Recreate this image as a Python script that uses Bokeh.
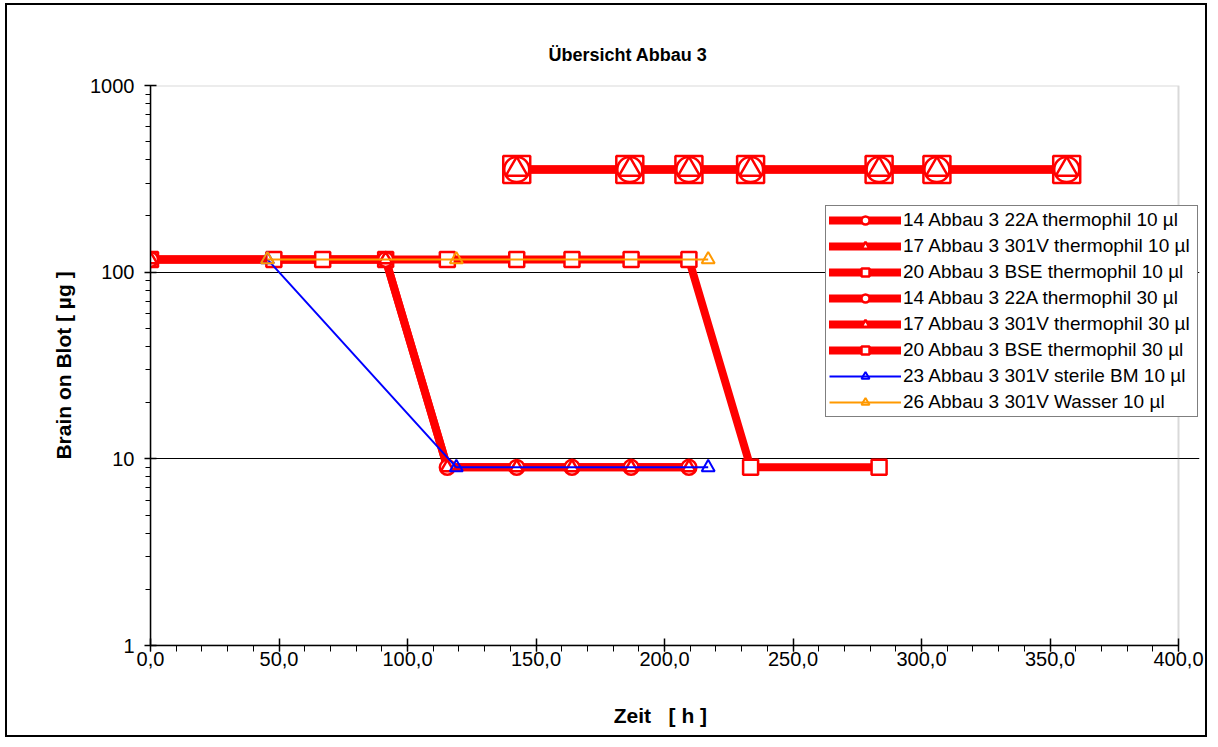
from bokeh.plotting import figure
from bokeh.models import (FixedTicker, CustomJSTickFormatter, Legend, LegendItem, Range1d,
                          BoxAnnotation)
from bokeh.embed import file_html
from bokeh.resources import INLINE

# ---- data (hours, µg) ----
x_14_10 = [0.0, 91.5, 115.5, 142.5, 164.0, 187.0, 209.5]
y_14_10 = [117, 117, 9, 9, 9, 9, 9]
x_17_10 = [0.0, 91.5, 115.5, 142.5, 164.0, 187.0, 209.5]
y_17_10 = [117, 117, 9, 9, 9, 9, 9]
x_20_10 = [0.0, 48.0, 67.0, 91.5, 115.5, 142.5, 164.0, 187.0, 209.5, 233.5, 283.5]
y_20_10 = [117, 117, 117, 117, 117, 117, 117, 117, 117, 9, 9]
x_14_30 = [142.5, 186.5, 209.5, 233.5, 283.5, 306.0, 356.5]
y_14_30 = [355, 355, 355, 355, 355, 355, 355]
x_17_30 = [142.5, 186.5, 209.5, 233.5, 283.5, 306.0, 356.5]
y_17_30 = [355, 355, 355, 355, 355, 355, 355]
x_20_30 = [142.5, 186.5, 209.5, 233.5, 283.5, 306.0, 356.5]
y_20_30 = [355, 355, 355, 355, 355, 355, 355]
x_23 = [45.5, 119.0, 217.0]
y_23 = [117, 9, 9]
x_26 = [45.5, 119.0, 217.0]
y_26 = [117, 117, 117]

labels = ["14 Abbau 3 22A thermophil 10 µl", "17 Abbau 3 301V thermophil 10 µl",
          "20 Abbau 3 BSE thermophil 10 µl", "14 Abbau 3 22A thermophil 30 µl",
          "17 Abbau 3 301V thermophil 30 µl", "20 Abbau 3 BSE thermophil 30 µl",
          "23 Abbau 3 301V sterile BM 10 µl", "26 Abbau 3 301V Wasser 10 µl"]
x_ticks = [0, 50, 100, 150, 200, 250, 300, 350, 400]
y_ticks = [1, 10, 100, 1000]
X_MIN, X_MAX = 0, 400
Y_MIN, Y_MAX = 1, 1000

FONT = "Liberation Sans"
RED = "#FF0000"
BLUE = "#0000FF"
ORANGE = "#FF9900"
NB = "\u00a0"

# frame widened to the right so that the legend may overhang the plot area
p = figure(width=1202, height=734, x_range=Range1d(X_MIN, X_MAX * 1049 / 1028),
           y_range=Range1d(Y_MIN, Y_MAX),
           y_axis_type="log", output_backend="svg", toolbar_location=None,
           min_border_left=143, min_border_right=10, min_border_top=80, min_border_bottom=94)
p.styles = {"border": "2px solid black", "box-sizing": "border-box",
            "margin-left": "5px", "margin-top": "3px"}

p.title.text = "Übersicht Abbau 3"
p.title.text_font = FONT
p.title.text_font_size = "18px"
p.title.text_font_style = "bold"
p.title.text_color = "black"
p.title.align = "left"
p.title.offset = 398
p.title.standoff = 42

p.outline_line_color = None
plot_area = BoxAnnotation(left=X_MIN, right=X_MAX, bottom=Y_MIN, top=Y_MAX,
                          fill_alpha=0, line_color="#808080", line_width=2, level="underlay")
p.add_layout(plot_area)
p.xgrid.visible = False
p.ygrid.ticker = FixedTicker(ticks=[10, 100])
p.ygrid.bounds = (X_MIN, X_MAX)
p.ygrid.grid_line_color = "#000000"
p.ygrid.grid_line_width = 1

p.xaxis.bounds = (X_MIN, X_MAX)
p.xaxis.ticker = FixedTicker(ticks=x_ticks, minor_ticks=list(range(0, 401, 10)))
p.xaxis.formatter = CustomJSTickFormatter(code="return tick.toFixed(1).replace('.', ',');")
p.yaxis.ticker = FixedTicker(ticks=y_ticks,
                             minor_ticks=[k * 10 ** d for d in range(3) for k in range(2, 10)])
p.yaxis.formatter = CustomJSTickFormatter(code="return tick.toFixed(0);")
for ax in (p.xaxis, p.yaxis):
    ax.axis_line_color = "black"
    ax.axis_line_width = 1.5
    ax.major_tick_line_color = "black"
    ax.minor_tick_line_color = "black"
    ax.major_tick_line_width = 1.5
    ax.major_label_text_font = FONT
    ax.major_label_text_font_size = "20px"
    ax.major_label_text_color = "black"
    ax.axis_label_text_font = FONT
    ax.axis_label_text_font_size = "21px"
    ax.axis_label_text_font_style = "bold"
    ax.axis_label_text_color = "black"
p.xaxis.major_tick_in = 7
p.xaxis.major_tick_out = 6
p.xaxis.minor_tick_in = 0
p.xaxis.minor_tick_out = 6
p.xaxis.major_label_standoff = 0
# trailing spaces re-centre the label under the plot area (the frame is wider)
p.xaxis.axis_label = "Zeit" + NB * 3 + "[ h ]" + NB * 5
p.xaxis.axis_label_standoff = 35
p.yaxis.major_tick_in = 6
p.yaxis.major_tick_out = 6
p.yaxis.minor_tick_in = 0
p.yaxis.minor_tick_out = 5
p.yaxis.major_label_standoff = 10
p.yaxis.axis_label = "Brain on Blot [ µg ]"
p.yaxis.axis_label_standoff = 12

red_series = [(x_14_10, y_14_10, "circle", 15), (x_17_10, y_17_10, "triangle", 13),
              (x_20_10, y_20_10, "square", 15), (x_14_30, y_14_30, "circle", 25),
              (x_17_30, y_17_30, "triangle", 22), (x_20_30, y_20_30, "square", 27)]

lines = []
for xs, ys, m, s in red_series:
    lines.append(p.line(xs, ys, line_color=RED, line_width=8, line_cap="round", line_join="round"))
marks = [None] * 6
for idx in [5, 2, 3, 0, 4, 1]:
    xs, ys, m, s = red_series[idx]
    marks[idx] = p.scatter(xs, ys, marker=m, size=s, line_color=RED, line_width=2.5,
                           fill_color="white")

bl = p.line(x_23, y_23, line_color=BLUE, line_width=2)
bm = p.scatter(x_23, y_23, marker="triangle", size=13, line_color=BLUE, line_width=2,
               fill_color=None)
ol = p.line(x_26, y_26, line_color=ORANGE, line_width=2)
om = p.scatter(x_26, y_26, marker="triangle", size=13, line_color=ORANGE, line_width=2,
               fill_color=None)

items = [LegendItem(label=labels[i], renderers=[lines[i], marks[i]]) for i in range(6)]
items.append(LegendItem(label=labels[6], renderers=[bl, bm]))
items.append(LegendItem(label=labels[7], renderers=[ol, om]))
legend = Legend(items=items, location=(675, 228))
legend.label_text_font = FONT
legend.label_text_font_size = "19px"
legend.label_text_color = "black"
legend.glyph_width = 72
legend.glyph_height = 20
legend.label_height = 20
legend.label_width = 291
legend.label_standoff = 2
legend.padding = 3
legend.spacing = 4
legend.margin = 0
legend.border_line_color = "black"
legend.border_line_width = 1
legend.background_fill_color = "white"
legend.background_fill_alpha = 1
p.add_layout(legend)

open("out.html", "w").write(file_html(p, INLINE))
